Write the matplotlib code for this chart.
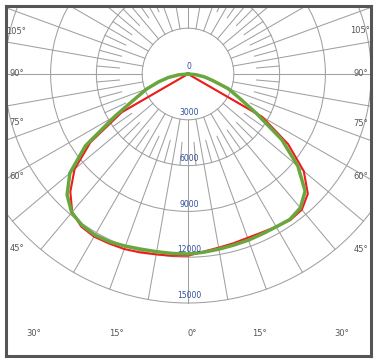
import numpy as np
import matplotlib
matplotlib.use('Agg')
import matplotlib.pyplot as plt
from matplotlib.patches import Circle

# gamma angles (deg from nadir), left half / right half of each plane (cd)
gamma = [0, 5, 10, 15, 20, 25, 30, 35, 40, 45, 50, 55, 60, 65, 70, 75, 80, 85, 90]

red_left = [11900, 11950, 12000, 12100, 12200, 12250, 12300, 12200, 11800, 10900,
            9700, 7800, 5000, 0, 0, 0, 0, 0, 0]
red_right = [11850, 11680, 11550, 11480, 11420, 11450, 11550, 11680, 11600, 11100,
             9900, 8000, 5600, 0, 0, 0, 0, 0, 0]
green_left = [11790, 11800, 11820, 11880, 12000, 12130, 12180, 12100, 11850, 11200,
              10100, 8200, 5500, 3800, 2900, 2000, 1300, 600, 0]
green_right = [11790, 11720, 11650, 11600, 11580, 11550, 11560, 11630, 11450, 10850,
               9400, 7500, 5200, 3700, 2800, 1700, 1100, 500, 0]
olive_left = [11790, 11800, 11820, 11880, 12000, 12130, 12180, 12100, 11850, 11200,
              10100, 8200, 5400, 0, 0, 0, 0, 0, 0]
olive_right = [11790, 11720, 11650, 11600, 11580, 11550, 11560, 11630, 11450, 10850,
               9400, 7500, 5100, 0, 0, 0, 0, 0, 0]

rings = [3000, 6000, 9000, 12000, 15000]
ring_labels = ['0', '3000', '6000', '9000', '12000', '15000']
ring_label_pos = [0, 3000, 6000, 9000, 12000, 15000]
side_angles = [45, 60, 75, 90, 105]
bottom_angles = [0, 15, 30]


def to_xy(left, right):
    g = np.radians(np.array(gamma, dtype=float))
    th = np.concatenate([-g[::-1], g[1:]])
    r = np.concatenate([np.array(left[::-1], float), np.array(right[1:], float)])
    return r * np.sin(th), -r * np.cos(th)


fig = plt.figure(figsize=(3.74, 3.62), dpi=100)
ax = fig.add_axes([6 / 374, 6 / 362, 365 / 374, 350 / 362])

k = 3000 / 45.8  # cd per pixel
cx, cy = 188, 74
xmin, xmax = (6 - cx) * k, (371 - cx) * k
ymin, ymax = -(356 - cy) * k, (cy - 6) * k
ax.set_xlim(xmin, xmax)
ax.set_ylim(ymin, ymax)
ax.set_xticks([])
ax.set_yticks([])
for s in ax.spines.values():
    s.set_color('#555555')
    s.set_linewidth(2.2)

grid_c = '#a0a0a0'
for r in rings:
    ax.add_patch(Circle((0, 0), r, fill=False, ec=grid_c, lw=0.75, zorder=1))

# radial lines: every 10 deg from 3000 to 15000, odd 5 deg from 4500 to 6000
for a in range(0, 360, 5):
    t = np.radians(a)
    if a % 10 == 0:
        r0, r1 = 3000, 15000
    else:
        r0, r1 = 4500, 6000
    ax.plot([r0 * np.sin(t), r1 * np.sin(t)], [-r0 * np.cos(t), -r1 * np.cos(t)],
            color=grid_c, lw=0.75, zorder=1)

# curves
x, y = to_xy(olive_left, olive_right)
ax.plot(x, y, color='#a8893a', lw=0.9, zorder=2)
x, y = to_xy(red_left, red_right)
ax.plot(x, y, color='#f01c1c', lw=1.5, zorder=3)
x, y = to_xy(green_left, green_right)
ax.plot(x, y, color='#6aa63e', lw=2.5, zorder=4)

# ring value labels
for lab, r in zip(ring_labels, ring_label_pos):
    ax.text(60, -r + 480, lab, color='#2f4f9a', fontsize=5.5,
            ha='center', va='center', zorder=5)

# angle labels at the sides
lab_c = '#555555'
inset = 10.5 * k
for a in side_angles:
    t = np.radians(a)
    for sgn in (-1, 1):
        xl = (xmin + inset) if sgn < 0 else (xmax - inset)
        yl = (-abs(xl) / np.tan(t) if a != 90 else 0) - 3 * k
        if a == 90:
            yl = 0
        ax.text(xl, yl, f'{a}°', color=lab_c, fontsize=6, ha='center', va='center', zorder=5)

# angle labels at the bottom
yb = -(333 - cy) * k
spread = 267 * k
for a in bottom_angles:
    t = np.radians(a)
    for sgn in ((1,) if a == 0 else (-1, 1)):
        xb = sgn * spread * np.tan(t) + (4 * k if a == 0 else 0)
        ax.text(xb, yb, f'{a}°', color=lab_c, fontsize=6,
                ha='center', va='center', zorder=5)

fig.savefig('out.png', dpi=100, facecolor='white')
